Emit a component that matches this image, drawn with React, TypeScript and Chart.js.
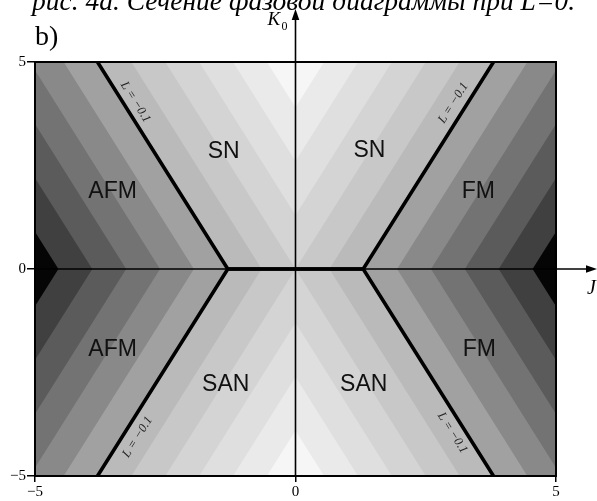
import { useEffect, useRef } from 'react';
import { Chart, registerables } from 'chart.js';

Chart.register(...registerables);

// Axis ranges and ticks
const J_MIN = -5;
const J_MAX = 5;
const K_MIN = -5;
const K_MAX = 5;
const xTickValues = [-5, 0, 5];
const yTickValues = [-5, 0, 5];

// Contour levels of the chevron pattern (level value = J-crossing on K=0 axis)
const contourLevels = [4.55, 3.9, 3.25, 2.6, 1.95, 1.3, 0.65, 0, -0.65, -1.3, -1.95];
// slope of contour lines: dJ per unit K
const contourSlope = 0.5;
// band colours: [above highest level, below level 0, below level 1, ...]
const bandColors = [
  '#050505', '#404040', '#5b5b5b', '#737373', '#898989', '#a1a1a1',
  '#bababa', '#c8c8c8', '#d4d4d4', '#dfdfdf', '#eaeaea', '#f6f6f6',
];

// Phase boundary L = -0.1
const boundaryTopJ = [-3.8, -1.3, 1.3, 3.8];
const boundaryTopK = [5, 0, 0, 5];
const boundaryBottomJ = [-3.8, -1.3, 1.3, 3.8];
const boundaryBottomK = [-5, 0, 0, -5];

// Phase names
const phaseNames = ['SN', 'SN', 'AFM', 'FM', 'AFM', 'FM', 'SAN', 'SAN'];
const phaseJ = [-1.38, 1.42, -3.51, 3.51, -3.51, 3.53, -1.34, 1.31];
const phaseK = [2.83, 2.85, 1.88, 1.86, -1.96, -1.96, -2.8, -2.8];

// Boundary labels
const boundaryLabel = 'L = \u22120.1';
const boundaryLabelJ = [-3.07, 3.03, -3.03, 3.01];
const boundaryLabelK = [4.03, 4.01, -4.06, -3.96];

const captionText = 'рис. 4а. Сечение фазовой диаграммы при L=0.';

type Pt = { x: number; y: number };

function regionPolygon(c: number): Pt[] {
  // region |J| - s|K| <= c inside the box
  const s = contourSlope;
  const ks = new Set<number>([K_MAX, 0, K_MIN]);
  const k1 = (J_MAX - c) / s;
  const k2 = -c / s;
  [k1, k2].forEach((k) => {
    if (k > 0 && k < K_MAX) {
      ks.add(k);
      ks.add(-k);
    }
  });
  const sorted = Array.from(ks).sort((a, b) => b - a);
  const g = (k: number) => Math.max(0, Math.min(J_MAX, c + s * Math.abs(k)));
  const pts: Pt[] = [];
  sorted.forEach((k) => pts.push({ x: g(k), y: k }));
  sorted.slice().reverse().forEach((k) => pts.push({ x: -g(k), y: k }));
  pts.push({ ...pts[0] });
  return pts;
}

const overlayPlugin = {
  id: 'overlay',
  afterDraw(chart: any) {
    const { ctx, chartArea: a, scales } = chart;
    const xs = scales.x;
    const ys = scales.y;
    const px = (v: number) => xs.getPixelForValue(v);
    const py = (v: number) => ys.getPixelForValue(v);
    ctx.save();

    // frame
    ctx.strokeStyle = '#000';
    ctx.lineWidth = 2;
    ctx.strokeRect(a.left, a.top, a.right - a.left, a.bottom - a.top);

    // axes with arrows
    const x0 = px(0);
    const y0 = py(0);
    ctx.lineWidth = 1.6;
    ctx.beginPath();
    ctx.moveTo(a.left, y0);
    ctx.lineTo(chart.width - 8, y0);
    ctx.stroke();
    ctx.beginPath();
    ctx.moveTo(x0, a.bottom);
    ctx.lineTo(x0, 18);
    ctx.stroke();
    ctx.fillStyle = '#000';
    ctx.beginPath();
    ctx.moveTo(chart.width, y0);
    ctx.lineTo(chart.width - 11, y0 - 3.8);
    ctx.lineTo(chart.width - 11, y0 + 3.8);
    ctx.closePath();
    ctx.fill();
    ctx.beginPath();
    ctx.moveTo(x0, 9);
    ctx.lineTo(x0 - 3.8, 20);
    ctx.lineTo(x0 + 3.8, 20);
    ctx.closePath();
    ctx.fill();

    // boundary labels
    const segs = [
      [boundaryTopJ[0], boundaryTopK[0], boundaryTopJ[1], boundaryTopK[1]],
      [boundaryTopJ[2], boundaryTopK[2], boundaryTopJ[3], boundaryTopK[3]],
      [boundaryBottomJ[0], boundaryBottomK[0], boundaryBottomJ[1], boundaryBottomK[1]],
      [boundaryBottomJ[2], boundaryBottomK[2], boundaryBottomJ[3], boundaryBottomK[3]],
    ];
    ctx.font = 'italic 12.5px "Liberation Serif"';
    ctx.fillStyle = '#222';
    ctx.textAlign = 'center';
    ctx.textBaseline = 'middle';
    boundaryLabelJ.forEach((j, i) => {
      const [ja, ka, jb, kb] = segs[i];
      let ang = Math.atan2(py(kb) - py(ka), px(jb) - px(ja));
      if (ang > Math.PI / 2) ang -= Math.PI;
      if (ang < -Math.PI / 2) ang += Math.PI;
      ctx.save();
      ctx.translate(px(j), py(boundaryLabelK[i]));
      ctx.rotate(ang);
      ctx.fillText(boundaryLabel, 0, 0);
      ctx.restore();
    });

    // phase names
    ctx.font = '23px "Liberation Sans"';
    ctx.fillStyle = '#111';
    phaseNames.forEach((n, i) => {
      ctx.fillText(n, px(phaseJ[i]), py(phaseK[i]));
    });

    // axis titles
    ctx.textAlign = 'left';
    ctx.textBaseline = 'alphabetic';
    ctx.fillStyle = '#000';
    ctx.font = 'italic 19px "Liberation Serif"';
    ctx.fillText('K', x0 - 28, 25);
    ctx.font = '12px "Liberation Serif"';
    ctx.fillText('0', x0 - 14, 30);
    ctx.font = 'italic 20px "Liberation Serif"';
    ctx.fillText('J', chart.width - 10, y0 + 25);

    // panel label
    ctx.font = '28px "Liberation Serif"';
    ctx.fillText('b)', 35, 45);

    // caption (cut at top)
    ctx.font = 'italic 26px "Liberation Serif"';
    const w = ctx.measureText(captionText).width;
    const size = 26 * 543 / w;
    ctx.font = `italic ${size.toFixed(2)}px "Liberation Serif"`;
    ctx.fillText(captionText, 32, 10);

    ctx.restore();
  },
};

export default function App() {
  const ref = useRef<HTMLCanvasElement | null>(null);

  useEffect(() => {
    document.body.style.margin = '0';
    const canvas = ref.current;
    if (!canvas) return;

    const polyDatasets: any[] = [];
    // smallest region first (top-most), largest last (drawn first)
    for (let i = contourLevels.length - 1; i >= 0; i--) {
      polyDatasets.push({
        data: regionPolygon(contourLevels[i]),
        backgroundColor: bandColors[i + 1],
        borderColor: 'rgba(0,0,0,0)',
        borderWidth: 0,
        pointRadius: 0,
        tension: 0,
        fill: 'shape',
      });
    }
    polyDatasets.push({
      data: [
        { x: J_MIN, y: K_MAX },
        { x: J_MAX, y: K_MAX },
        { x: J_MAX, y: K_MIN },
        { x: J_MIN, y: K_MIN },
        { x: J_MIN, y: K_MAX },
      ],
      backgroundColor: bandColors[0],
      borderColor: 'rgba(0,0,0,0)',
      borderWidth: 0,
      pointRadius: 0,
      tension: 0,
      fill: 'shape',
    });

    const lineDs = (js: number[], ks: number[]) => ({
      data: js.map((j, i) => ({ x: j, y: ks[i] })),
      borderColor: '#000',
      borderWidth: 3.6,
      pointRadius: 0,
      tension: 0,
      fill: false,
      borderJoinStyle: 'miter',
    });

    const chart = new Chart(canvas, {
      type: 'line',
      data: {
        datasets: [
          lineDs(boundaryTopJ, boundaryTopK),
          lineDs(boundaryBottomJ, boundaryBottomK),
          ...polyDatasets,
        ],
      },
      options: {
        animation: false,
        responsive: false,
        events: [],
        layout: { padding: { top: 62, right: 41, bottom: 0, left: 0 } },
        plugins: { legend: { display: false }, tooltip: { enabled: false } },
        scales: {
          x: {
            type: 'linear',
            min: J_MIN,
            max: J_MAX,
            afterFit: (s: any) => { s.height = 25; },
            afterBuildTicks: (s: any) => { s.ticks = xTickValues.map((v) => ({ value: v })); },
            ticks: {
              padding: 1,
              color: '#000',
              font: { family: '"Liberation Serif"', size: 15 },
              callback: (v: any) => String(v).replace('-', '\u2212'),
            },
            grid: { drawOnChartArea: false, drawTicks: true, tickLength: 6, color: '#000', lineWidth: 1.5 },
            border: { display: true, color: '#000', width: 2 },
          },
          y: {
            type: 'linear',
            min: K_MIN,
            max: K_MAX,
            afterFit: (s: any) => { s.width = 35; },
            afterBuildTicks: (s: any) => { s.ticks = yTickValues.map((v) => ({ value: v })); },
            ticks: {
              padding: 1,
              color: '#000',
              font: { family: '"Liberation Serif"', size: 15 },
              callback: (v: any) => String(v).replace('-', '\u2212'),
            },
            grid: { drawOnChartArea: false, drawTicks: true, tickLength: 8, color: '#000', lineWidth: 1.5 },
            border: { display: true, color: '#000', width: 2 },
          },
        },
      },
      plugins: [overlayPlugin],
    } as any);

    return () => chart.destroy();
  }, []);

  return (
    <div style={{ position: 'fixed', left: 0, top: 0, width: 597, height: 501, background: '#fff' }}>
      <canvas ref={ref} width={597} height={501} style={{ display: 'block' }} />
    </div>
  );
}
